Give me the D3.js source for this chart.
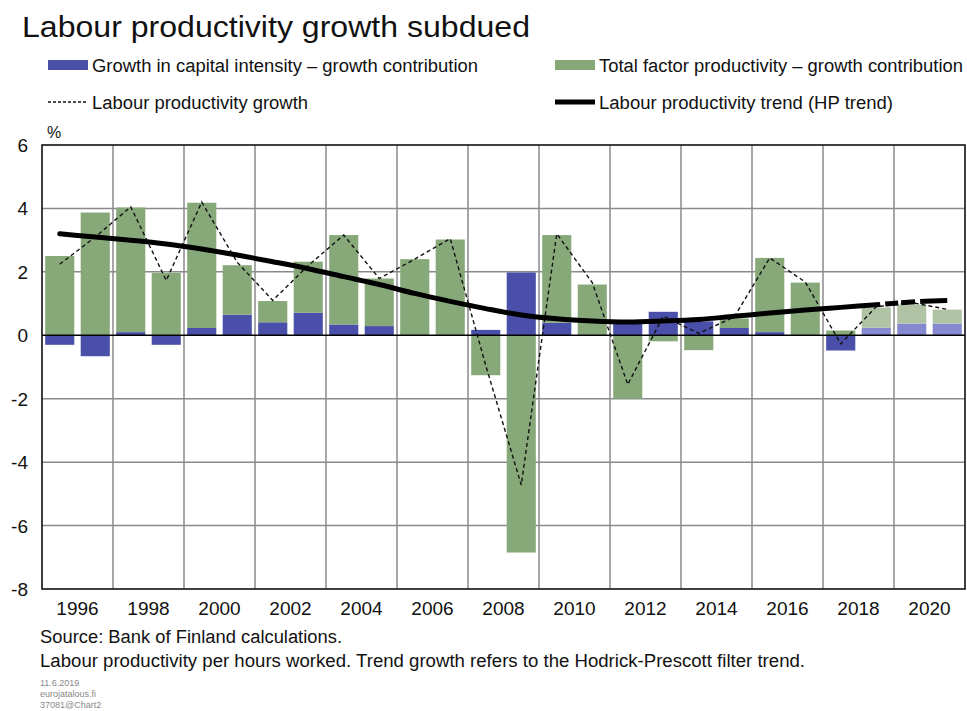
<!DOCTYPE HTML>
<html>
<head>
<meta charset="utf-8">
<style>
  body { margin: 0; background: #fff; }
  svg text { font-family: "Liberation Sans", Arial, sans-serif; fill: #111; }
  .grid line { stroke: #8a8a8a; stroke-width: 1.5px; }
  .small { font-size: 9px; fill: #888; }
</style>
<script src="https://cdn.jsdelivr.net/npm/d3@7"></script>
</head>
<body>
<script>
var years = [1996,1997,1998,1999,2000,2001,2002,2003,2004,2005,2006,2007,2008,
             2009,2010,2011,2012,2013,2014,2015,2016,2017,2018,2019,2020,2021];
// contributions, percentage points
var capital = [-0.3,-0.66,0.1,-0.3,0.23,0.65,0.41,0.71,0.34,0.29,0,0,0.17,
               1.98,0.4,0,0.42,0.74,0.44,0.23,0.1,0,-0.48,0.24,0.37,0.37];
var tfp = [2.5,3.87,3.93,1.97,3.95,1.56,0.67,1.61,2.82,1.5,2.4,3.02,-1.26,
           -6.85,2.76,1.6,-2.0,-0.19,-0.47,0.3,2.34,1.66,0.15,0.64,0.6,0.44];
var lpGrowth = [2.24,3.1,4.05,1.73,4.2,2.3,1.1,2.2,3.16,1.79,2.4,3.05,-0.95,
                -4.72,3.2,1.66,-1.55,0.6,0.06,0.58,2.44,1.68,-0.27,0.9,1.03,0.82];
var lpTrend = [3.2,3.1,3.0,2.88,2.72,2.53,2.32,2.1,1.85,1.6,1.32,1.07,0.84,
               0.64,0.52,0.45,0.42,0.45,0.5,0.6,0.7,0.8,0.88,0.96,1.05,1.1];
var firstForecast = 2019;
var yTicks = [-8,-6,-4,-2,0,2,4,6];
var xLabels = [1996,1998,2000,2002,2004,2006,2008,2010,2012,2014,2016,2018,2020];

var colBlue = "#4a4fa9", colGreen = "#87a97a";
var colBlueLight = "#8589cf", colGreenLight = "#b0c4a5";

var W = 967, H = 711;
var pL = 42, pR = 965, pT = 145, pB = 589;

var svg = d3.select("body").append("svg")
  .attr("width", W).attr("height", H);

var x = d3.scaleBand().domain(years).range([pL, pR])
  .paddingInner(0.18).paddingOuter(0.09);
var y = d3.scaleLinear().domain([-8, 6]).range([pB, pT]);
var step = x.step();
var cx = function(yr) { return x(yr) + x.bandwidth() / 2; };

// fit text to the width it has in the chart
function label(g, tx, ty, size, str, len) {
  var t = g.append("text").attr("x", tx).attr("y", ty).style("font-size", size + "px").text(str);
  if (len) t.attr("textLength", len).attr("lengthAdjust", "spacingAndGlyphs");
  return t;
}

// title + legend
label(svg, 22, 37, 30, "Labour productivity growth subdued", 508);

var leg = svg.append("g");
leg.append("rect").attr("x", 48).attr("y", 60).attr("width", 40).attr("height", 10).attr("fill", colBlue);
label(leg, 92, 72, 18, "Growth in capital intensity \u2013 growth contribution", 386);
leg.append("rect").attr("x", 555).attr("y", 60).attr("width", 40).attr("height", 10).attr("fill", colGreen);
label(leg, 599, 72, 18, "Total factor productivity \u2013 growth contribution", 364);
leg.append("line").attr("x1", 48).attr("x2", 88).attr("y1", 102).attr("y2", 102)
  .attr("stroke", "#111").attr("stroke-width", 1.3).attr("stroke-dasharray", "3,2");
label(leg, 92, 109, 18, "Labour productivity growth", 216);
leg.append("line").attr("x1", 555).attr("x2", 595).attr("y1", 102).attr("y2", 102)
  .attr("stroke", "#000").attr("stroke-width", 5);
label(leg, 599, 109, 18, "Labour productivity trend (HP trend)", 294);

label(svg, 47, 138, 16, "%");

// grid
var grid = svg.append("g").attr("class", "grid");
grid.selectAll(".h").data(yTicks.filter(function(d) { return d !== 0 && d !== 6 && d !== -8; }))
  .enter().append("line")
  .attr("x1", pL).attr("x2", pR)
  .attr("y1", function(d) { return y(d); }).attr("y2", function(d) { return y(d); });
grid.selectAll(".v").data(xLabels.slice(1))
  .enter().append("line")
  .attr("x1", function(d) { return x(d) - x.paddingInner() * step / 2; })
  .attr("x2", function(d) { return x(d) - x.paddingInner() * step / 2; })
  .attr("y1", pT).attr("y2", pB);

// stacked bars
var segs = [];
years.forEach(function(yr, i) {
  var pos = 0, neg = 0;
  var fc = yr >= firstForecast;
  [[capital[i], fc ? colBlueLight : colBlue], [tfp[i], fc ? colGreenLight : colGreen]].forEach(function(p) {
    var v = p[0];
    if (v >= 0) { segs.push({yr: yr, y0: pos, y1: pos + v, c: p[1]}); pos += v; }
    else { segs.push({yr: yr, y0: neg + v, y1: neg, c: p[1]}); neg += v; }
  });
});
svg.append("g").selectAll("rect").data(segs).enter().append("rect")
  .attr("x", function(d) { return x(d.yr); })
  .attr("width", x.bandwidth())
  .attr("y", function(d) { return y(d.y1); })
  .attr("height", function(d) { return y(d.y0) - y(d.y1); })
  .attr("fill", function(d) { return d.c; });

// zero line + frame
svg.append("line").attr("x1", pL).attr("x2", pR).attr("y1", y(0)).attr("y2", y(0))
  .attr("stroke", "#000").attr("stroke-width", 1.6);
svg.append("rect").attr("x", pL).attr("y", pT).attr("width", pR - pL).attr("height", pB - pT)
  .attr("fill", "none").attr("stroke", "#111").attr("stroke-width", 1.6);

// lines
var line = d3.line().x(function(d) { return cx(d.yr); }).y(function(d) { return y(d.v); });
var lpData = years.map(function(yr, i) { return {yr: yr, v: lpGrowth[i]}; });
var trData = years.map(function(yr, i) { return {yr: yr, v: lpTrend[i]}; });
var smooth = d3.line().curve(d3.curveMonotoneX)
  .x(function(d) { return cx(d.yr); }).y(function(d) { return y(d.v); });

svg.append("path").datum(lpData).attr("d", line)
  .attr("fill", "none").attr("stroke", "#111").attr("stroke-width", 1.4)
  .attr("stroke-dasharray", "4,3");
svg.append("path").datum(trData.filter(function(d) { return d.yr <= firstForecast; })).attr("d", smooth)
  .attr("fill", "none").attr("stroke", "#000").attr("stroke-width", 5).attr("stroke-linecap", "round");
svg.append("path").datum(trData.filter(function(d) { return d.yr >= firstForecast; })).attr("d", smooth)
  .attr("fill", "none").attr("stroke", "#000").attr("stroke-width", 5)
  .attr("stroke-dasharray", "4,5,13,3,14,5,40,10");

// axes labels
svg.append("g").selectAll("text").data(yTicks).enter().append("text")
  .attr("x", 28).attr("y", function(d) { return y(d) + 7; })
  .attr("text-anchor", "end").style("font-size", "19px")
  .text(function(d) { return d; });
svg.append("g").selectAll("text").data(xLabels).enter().append("text")
  .attr("x", function(d) { return x(d) + step / 2 + x.bandwidth() / 2; })
  .attr("y", 615).attr("text-anchor", "middle").style("font-size", "19px")
  .text(function(d) { return d; });

// notes
label(svg, 40, 643, 18, "Source: Bank of Finland calculations.", 302);
label(svg, 40, 667, 18, "Labour productivity per hours worked. Trend growth refers to the Hodrick-Prescott filter trend.", 765);
svg.append("text").attr("class", "small").attr("x", 40).attr("y", 686).text("11.6.2019");
svg.append("text").attr("class", "small").attr("x", 40).attr("y", 697).text("eurojatalous.fi");
svg.append("text").attr("class", "small").attr("x", 40).attr("y", 708).text("37081@Chart2");
</script>
</body>
</html>
